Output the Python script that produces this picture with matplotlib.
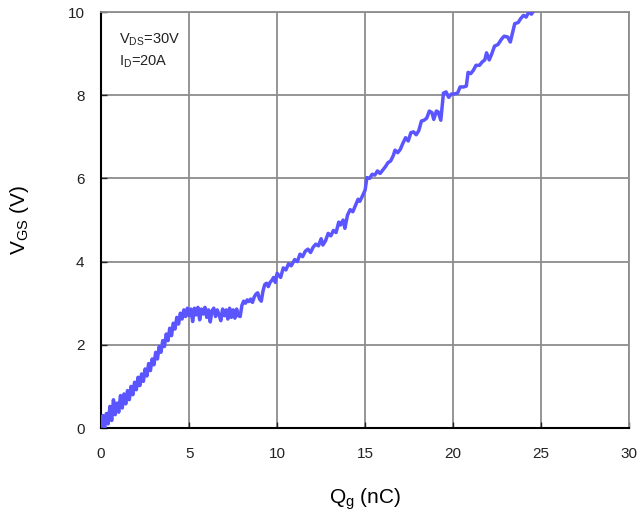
import matplotlib
matplotlib.use("Agg")
import matplotlib.pyplot as plt

plt.rcParams['font.family'] = ['Liberation Sans', 'DejaVu Sans']

# gate charge Qg (nC) dan tegangan VGS (V)
qg = [0.0, 0.1, 0.2, 0.3, 0.4, 0.5, 0.6, 0.7, 0.8, 0.9,
      1.0, 1.1, 1.2, 1.3, 1.4, 1.5, 1.6, 1.7, 1.8, 1.9,
      2.0, 2.1, 2.2, 2.3, 2.4, 2.5, 2.6, 2.7, 2.8, 2.9,
      3.0, 3.1, 3.2, 3.3, 3.4, 3.5, 3.6, 3.7, 3.8, 3.9,
      4.0, 4.1, 4.2, 4.3, 4.4, 4.5, 4.6, 4.7, 4.8, 4.9,
      5.0, 5.1, 5.2, 5.3, 5.4, 5.5, 5.6, 5.7, 5.8, 5.9,
      6.0, 6.1, 6.2, 6.3, 6.4, 6.5, 6.6, 6.7, 6.8, 6.9,
      7.0, 7.1, 7.2, 7.3, 7.4, 7.5, 7.6, 7.7, 7.8, 7.9,
      8.0, 8.1, 8.2, 8.3, 8.4, 8.5, 8.6, 8.7, 8.8, 8.9,
      9.0, 9.1, 9.2, 9.3, 9.4, 9.5, 9.6, 9.7, 9.8, 9.9,
      10.0, 10.2, 10.35, 10.5, 10.65, 10.8, 11.0, 11.15, 11.3, 11.45,
      11.6, 11.75, 11.9, 12.05, 12.2, 12.35, 12.5, 12.6, 12.75, 12.9,
      13.05, 13.2, 13.35, 13.5, 13.6, 13.75, 13.85, 14.0, 14.15, 14.3,
      14.45, 14.6, 14.7, 14.85, 15.0, 15.1, 15.25, 15.4, 15.55, 15.7,
      15.85, 16.0, 16.15, 16.3, 16.45, 16.6, 16.7, 16.85, 17.0, 17.15,
      17.3, 17.45, 17.6, 17.75, 17.9, 18.05, 18.2, 18.35, 18.5, 18.65,
      18.8, 18.9, 19.05, 19.15, 19.3, 19.45, 19.6, 19.75, 19.9, 20.05,
      20.25, 20.4, 20.6, 20.75, 20.85, 21.0, 21.15, 21.3, 21.5, 21.65,
      21.8, 21.9, 22.05, 22.2, 22.35, 22.55, 22.75, 22.9, 23.1, 23.25,
      23.4, 23.5, 23.7, 23.85, 24.0, 24.15, 24.3, 24.45, 24.6]
vgs = [0.05, 0.30, 0.00, 0.35, 0.10, 0.52, 0.18, 0.68, 0.32, 0.60,
       0.38, 0.78, 0.48, 0.82, 0.58, 0.90, 0.68, 1.00, 0.80, 1.10,
       0.92, 1.22, 1.02, 1.30, 1.12, 1.42, 1.25, 1.55, 1.38, 1.66,
       1.52, 1.82, 1.66, 1.96, 1.82, 2.10, 1.96, 2.26, 2.10, 2.40,
       2.22, 2.52, 2.38, 2.66, 2.50, 2.76, 2.62, 2.84, 2.68, 2.88,
       2.70, 2.86, 2.56, 2.88, 2.72, 2.90, 2.60, 2.86, 2.74, 2.90,
       2.66, 2.84, 2.55, 2.82, 2.88, 2.68, 2.84, 2.72, 2.58, 2.86,
       2.70, 2.84, 2.62, 2.88, 2.66, 2.84, 2.64, 2.86, 2.70, 2.68,
       2.95, 3.05, 3.00, 3.08, 3.04, 3.10, 3.02, 3.15, 3.22, 3.25,
       3.10, 3.05, 3.30, 3.45, 3.48, 3.40, 3.50, 3.55, 3.62, 3.50,
       3.72, 3.62, 3.85, 3.80, 3.95, 3.90, 4.05, 4.00, 4.18, 4.12,
       4.25, 4.30, 4.22, 4.35, 4.42, 4.38, 4.55, 4.40, 4.50, 4.68,
       4.62, 4.75, 4.70, 4.95, 4.88, 5.00, 4.80, 5.12, 5.25, 5.20,
       5.35, 5.50, 5.45, 5.58, 5.72, 6.02, 6.00, 6.10, 6.08, 6.18,
       6.12, 6.20, 6.28, 6.38, 6.42, 6.55, 6.68, 6.62, 6.70, 6.85,
       6.98, 6.90, 7.10, 7.12, 7.05, 7.15, 7.38, 7.40, 7.45, 7.62,
       7.58, 7.42, 7.62, 7.60, 7.40, 8.05, 8.08, 7.95, 8.03, 8.03,
       8.05, 8.20, 8.20, 8.22, 8.55, 8.52, 8.60, 8.72, 8.72, 8.80,
       8.85, 9.02, 8.85, 9.00, 9.18, 9.22, 9.35, 9.42, 9.40, 9.28,
       9.55, 9.72, 9.75, 9.85, 9.92, 9.88, 10.00, 9.95, 10.05]

xticks = [0, 5, 10, 15, 20, 25, 30]
yticks = [0, 2, 4, 6, 8, 10]

fig = plt.figure(figsize=(6.4, 5.11), dpi=100)
ax = fig.add_axes([0.158, 0.1624, 0.825, 0.814])

ax.plot(qg, vgs, color='#5a55ff', lw=2.5, zorder=3)

ax.set_xlim(0, 30)
ax.set_ylim(0, 10)
ax.set_xticks(xticks)
ax.set_yticks(yticks)
ax.grid(True, color='#8c8c8c', lw=1.3, zorder=1)
ax.set_axisbelow(True)

for s in ['top', 'right']:
    ax.spines[s].set_color('#8c8c8c')
    ax.spines[s].set_linewidth(1.3)
for s in ['left', 'bottom']:
    ax.spines[s].set_color('black')
    ax.spines[s].set_linewidth(1.5)

ax.tick_params(direction='in', length=4, width=1, labelsize=11,
               colors='#222222', pad=14)
ax.tick_params(axis='y', pad=12)

ax.set_xlabel('Q$_\\mathregular{g}$ (nC)', fontsize=15, labelpad=18)
ax.set_ylabel('V$_\\mathregular{GS}$ (V)', fontsize=15, labelpad=26)

# kotak keterangan kondisi uji
ax.text(1.0, 8.6, 'V$_\\mathregular{DS}$=30V\nI$_\\mathregular{D}$=20A',
        fontsize=10.5, color='#222222', linespacing=1.45, va='bottom',
        bbox=dict(facecolor='white', edgecolor='none', pad=4), zorder=2)

fig.savefig('out.png', dpi=100)
